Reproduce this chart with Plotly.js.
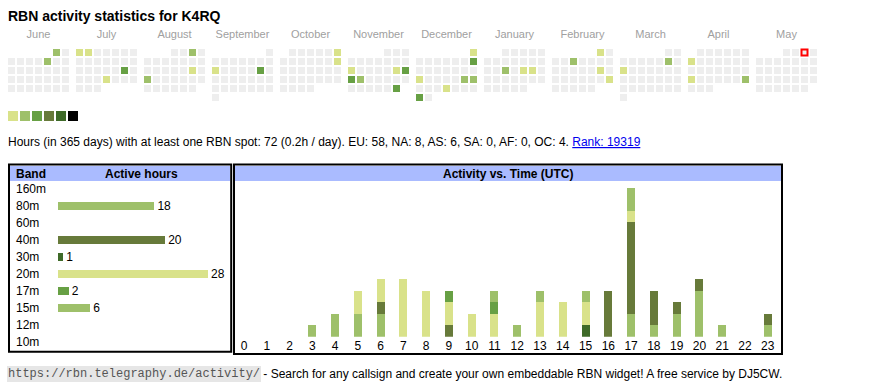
<!DOCTYPE html>
<html><head><meta charset="utf-8">
<script src="https://cdn.plot.ly/plotly-3.0.1.min.js"></script>
<style>html,body{margin:0;padding:0;background:#fff}#chart{width:870px;height:390px}</style>
</head><body><div id="chart"></div>
<script>
// ---------- DATA ----------
const callsign = 'K4RQ';
const monthNames = ['June','July','August','September','October','November','December','January','February','March','April','May'];
const monthStarts = ['2024-06-01','2024-07-01','2024-08-01','2024-09-01','2024-10-01','2024-11-01','2024-12-01','2025-01-01','2025-02-01','2025-03-01','2025-04-01','2025-05-01'];
const activeDays = ['2024-06-01','2024-06-07','2024-07-01','2024-07-02','2024-07-20','2024-07-25',
  '2024-08-03','2024-08-17','2024-08-19','2024-09-09','2024-09-14','2024-10-06','2024-10-13',
  '2024-11-11','2024-11-16','2024-11-17','2024-11-18','2024-11-19','2024-11-30',
  '2024-12-01','2024-12-08','2024-12-16','2024-12-21','2024-12-22','2024-12-26','2024-12-30',
  '2025-01-15','2025-01-17','2025-01-18','2025-02-01','2025-02-05','2025-02-15','2025-02-23',
  '2025-03-08','2025-03-10','2025-04-07','2025-04-21','2025-04-27'];
const activeLevels = [2,2,1,1,3,1, 2,1,2,1,3,1,1, 1,1,3,3,2,3, 1,3,1,2,2,1,3, 2,1,1,1,2,1,1, 2,1,1,1,2];
const todayDate = '2025-05-03';
const legendLevels = [1,2,3,4,5,6];
const levelColors = ['#eeeeee','#d9e28a','#9ec06a','#67a044','#677a3a','#3e6a28','#000000'];

const bands = ['160m','80m','60m','40m','30m','20m','17m','15m','12m','10m'];
const bandHours = [0,18,0,20,1,28,2,6,0,0];
const bandColors = ['#b5c98a','#9ec06a','#c9d98f','#677a3a','#3e6a28','#d9e28a','#67a044','#9ec06a','#8fb35a','#7aa54d'];

const hours = [0,1,2,3,4,5,6,7,8,9,10,11,12,13,14,15,16,17,18,19,20,21,22,23];
const act160m = [0,0,0,0,0,0,0,0,0,0,0,0,0,0,0,0,0,0,0,0,0,0,0,0];
const act80m  = [0,0,0,1,2,2,2,0,0,0,0,0,0,0,0,0,0,2,1,2,4,1,0,1];
const act60m  = [0,0,0,0,0,0,0,0,0,0,0,0,0,0,0,0,0,0,0,0,0,0,0,0];
const act40m  = [0,0,0,0,0,0,1,0,0,1,0,0,0,0,0,0,4,8,3,1,1,0,0,1];
const act30m  = [0,0,0,0,0,0,0,0,0,0,0,0,0,0,0,1,0,0,0,0,0,0,0,0];
const act20m  = [0,0,0,0,0,2,2,5,4,2,2,2,0,3,3,2,0,1,0,0,0,0,0,0];
const act17m  = [0,0,0,0,0,0,0,0,0,1,0,1,0,0,0,0,0,0,0,0,0,0,0,0];
const act15m  = [0,0,0,0,0,0,0,0,0,0,0,1,1,1,0,1,0,2,0,0,0,0,0,0];
const act12m  = [0,0,0,0,0,0,0,0,0,0,0,0,0,0,0,0,0,0,0,0,0,0,0,0];
const act10m  = [0,0,0,0,0,0,0,0,0,0,0,0,0,0,0,0,0,0,0,0,0,0,0,0];
const bandHourly = [act160m,act80m,act60m,act40m,act30m,act20m,act17m,act15m,act12m,act10m];

const statsText = 'Hours (in 365 days) with at least one RBN spot: 72 (0.2h / day). EU: 58, NA: 8, AS: 6, SA: 0, AF: 0, OC: 4.';
const rankText = 'Rank: 19319';
const footerUrl = 'https://rbn.telegraphy.de/activity/';
const footerText = ' - Search for any callsign and create your own embeddable RBN widget! A free service by DJ5CW.';

// ---------- LAYOUT HELPERS ----------
const W = 870, H = 390;
const FONT = 'Liberation Sans, Arial, sans-serif';
const CELL = 9, BLOCK = 68, CX0 = 8, CY0 = 49, SZ = 7;
const py = v => 1 - v / H;

function parseDay(s){const p=s.split('-').map(Number);return new Date(Date.UTC(p[0],p[1]-1,p[2]));}
function key(y,m,d){return y+'-'+String(m+1).padStart(2,'0')+'-'+String(d).padStart(2,'0');}

const calX=[],calY=[],calC=[]; let todayX=null,todayY=null;
const monX=[],monY=[];
monthStarts.forEach((ms,mi)=>{
  const d0=parseDay(ms); const y=d0.getUTCFullYear(), m=d0.getUTCMonth();
  const nd=new Date(Date.UTC(y,m+1,0)).getUTCDate();
  const wd0=(d0.getUTCDay()+6)%7;
  monX.push(CX0+mi*BLOCK+(7*CELL-2)/2); monY.push(35.5);
  for(let d=1; d<=nd; d++){
    const idx=wd0+d-1, col=idx%7, row=Math.floor(idx/7);
    const k=key(y,m,d); const ai=activeDays.indexOf(k);
    const x=CX0+mi*BLOCK+col*CELL+SZ/2, yy=CY0+row*CELL+SZ/2;
    calX.push(x); calY.push(yy); calC.push(levelColors[ai>=0?activeLevels[ai]:0]);
    if(k===todayDate){todayX=x;todayY=yy;}
  }
});

const traces = [];
traces.push({type:'scatter',mode:'markers',x:calX,y:calY,xaxis:'x',yaxis:'y',
  marker:{symbol:'square',size:SZ,color:calC,line:{width:0}},hoverinfo:'skip'});
traces.push({type:'scatter',mode:'markers',x:[todayX],y:[todayY],xaxis:'x',yaxis:'y',
  marker:{symbol:'square',size:6,color:levelColors[0],line:{width:2,color:'#ff0000'}},hoverinfo:'skip'});
traces.push({type:'scatter',mode:'text',x:monX,y:monY,text:monthNames,xaxis:'x',yaxis:'y',
  textposition:'middle center',textfont:{family:FONT,size:11,color:'#a0a0a0'},hoverinfo:'skip'});
traces.push({type:'scatter',mode:'markers',x:legendLevels.map((l,i)=>13+i*12),y:legendLevels.map(()=>116),
  xaxis:'x',yaxis:'y',marker:{symbol:'square',size:10,color:legendLevels.map(l=>levelColors[l]),line:{width:0}},hoverinfo:'skip'});

// band table
traces.push({type:'bar',orientation:'h',y:bands,x:bandHours,xaxis:'x2',yaxis:'y2',width:0.42,
  marker:{color:bandColors,line:{width:0}},text:bandHours.map(v=>v>0?String(v):''),textposition:'outside',
  constraintext:'none',textfont:{family:FONT,size:12,color:'#000'},outsidetextfont:{family:FONT,size:12,color:'#000'},
  cliponaxis:false,hoverinfo:'skip'});

// activity vs time
bands.forEach((b,i)=>{
  traces.push({type:'bar',x:hours,y:bandHourly[i],xaxis:'x3',yaxis:'y3',width:0.35,name:b,
    marker:{color:bandColors[i],line:{width:0}},hoverinfo:'skip'});
});

const shapes = [
  {type:'rect',xref:'x',yref:'y',x0:10,x1:230,y0:166,y1:181,fillcolor:'#aabbff',line:{width:0},layer:'below'},
  {type:'rect',xref:'x',yref:'y',x0:235,x1:781,y0:166,y1:181,fillcolor:'#aabbff',line:{width:0},layer:'below'},
  {type:'rect',xref:'x',yref:'y',x0:9,x1:231.2,y0:164.5,y1:351.7,line:{width:2,color:'#000'},fillcolor:'rgba(0,0,0,0)'},
  {type:'rect',xref:'x',yref:'y',x0:234,x1:782,y0:164.5,y1:354,line:{width:2,color:'#000'},fillcolor:'rgba(0,0,0,0)'}
];

const ann = (x,y,text,opts)=>Object.assign({xref:'x',yref:'y',x:x,y:y,text:text,showarrow:false,
  xanchor:'left',yanchor:'middle',borderpad:0,borderwidth:0,font:{family:FONT,size:12,color:'#000'}},opts||{});
const annotations = [
  ann(8,15.5,'<b>RBN activity statistics for '+callsign+'</b>',{font:{family:FONT,size:14,color:'#000'}}),
  ann(8,142,statsText+' <a href="https://rbn.telegraphy.de/activity/'+callsign+'"><span style="color:#0000ee"><u>'+rankText+'</u></span></a>'),
  ann(16,173.5,'<b>Band</b>'),
  ann(141.7,173.5,'<b>Active hours</b>',{xanchor:'center'}),
  ann(508,173.5,'<b>Activity vs. Time (UTC)</b>',{xanchor:'center'}),
  ann(7,373.5,footerUrl,{bgcolor:'#e6e6e6',borderpad:1,font:{family:'Liberation Mono, Courier New, monospace',size:12,color:'#555'}}),
  ann(260,373.5,footerText)
];

const layout = {
  width:W,height:H,margin:{l:0,r:0,t:0,b:0},paper_bgcolor:'#fff',plot_bgcolor:'rgba(0,0,0,0)',
  showlegend:false,hovermode:false,barmode:'stack',font:{family:FONT,size:12,color:'#000'},
  xaxis:{domain:[0,1],range:[0,W],visible:false,fixedrange:true,anchor:'y'},
  yaxis:{domain:[0,1],range:[H,0],visible:false,fixedrange:true,anchor:'x'},
  xaxis2:{domain:[13/W,229/W],range:[-8.4,31.92],visible:false,anchor:'y2',fixedrange:true},
  yaxis2:{domain:[py(350.5),py(180.5)],anchor:'x2',type:'category',categoryarray:bands,categoryorder:'array',
    range:[9.5,-0.5],ticklabelposition:'inside',ticks:'',showgrid:false,zeroline:false,showline:false,
    tickfont:{family:FONT,size:12,color:'#000'},fixedrange:true},
  xaxis3:{domain:[235/W,781/W],range:[-0.395,23.583],anchor:'y3',tickmode:'array',tickvals:hours,ticktext:hours.map(String),
    ticks:'',showgrid:false,zeroline:false,showline:false,tickfont:{family:FONT,size:12,color:'#000'},fixedrange:true},
  yaxis3:{domain:[py(336.7),py(181)],range:[0,13.586],visible:false,anchor:'x3',fixedrange:true},
  shapes:shapes,annotations:annotations
};
Plotly.newPlot('chart',traces,layout,{staticPlot:true,displayModeBar:false});
</script></body></html>
